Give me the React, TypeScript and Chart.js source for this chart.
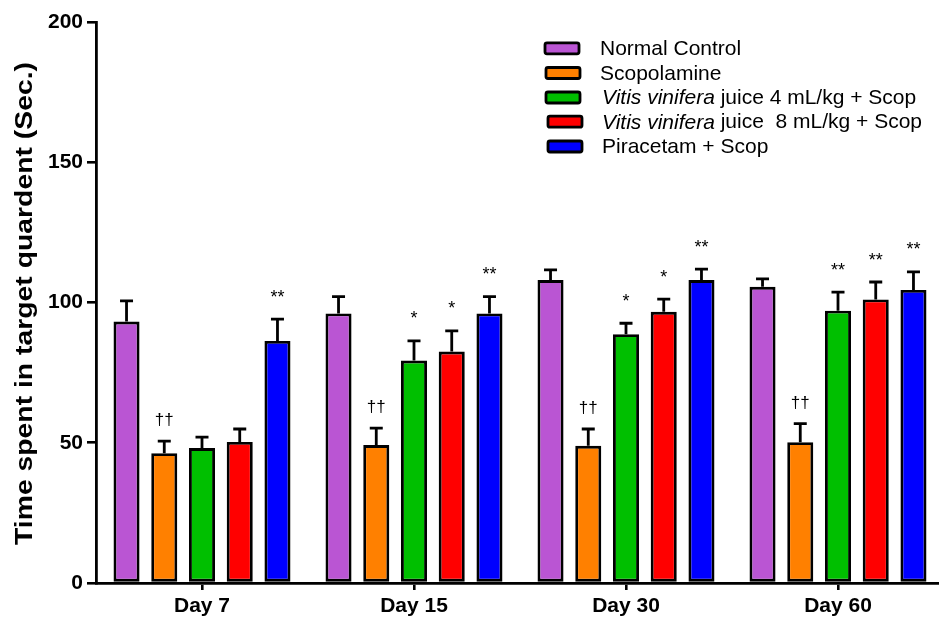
import React, { useEffect, useRef } from "react";
import { Chart, registerables } from "chart.js";

Chart.register(...registerables);

const categories = ["Day 7", "Day 15", "Day 30", "Day 60"];
const seriesNames = [
  "Normal Control",
  "Scopolamine",
  "Vitis vinifera juice 4 mL/kg + Scop",
  "Vitis vinifera juice  8 mL/kg + Scop",
  "Piracetam + Scop",
];
const normalControl = [93.2, 96.1, 108.0, 105.6];
const normalControlErr = [7.4, 6.0, 3.6, 2.8];
const scopolamine = [46.3, 49.2, 48.9, 50.2];
const scopolamineErr = [4.3, 6.0, 6.0, 6.6];
const vitis4 = [48.1, 79.3, 88.7, 97.1];
const vitis4Err = [3.9, 7.0, 3.9, 6.6];
const vitis8 = [50.3, 82.5, 96.7, 101.1];
const vitis8Err = [4.6, 7.4, 4.5, 6.2];
const piracetam = [86.3, 96.1, 108.0, 104.5];
const piracetamErr = [7.8, 6.0, 3.9, 6.4];

const normalNotes = ["", "", "", ""];
const scopNotes = ["††", "††", "††", "††"];
const vitis4Notes = ["", "*", "*", "**"];
const vitis8Notes = ["", "*", "*", "**"];
const piracetamNotes = ["**", "**", "**", "**"];

const yTicks = [0, 50, 100, 150, 200];
const yTitle = "Time spent in target quardent (Sec.)";

const colors = ["#BA55D3", "#FF8000", "#00BF00", "#FF0000", "#0000FF"];
const FONT = '"Liberation Sans", Arial, sans-serif';

const values = [normalControl, scopolamine, vitis4, vitis8, piracetam];
const errors = [normalControlErr, scopolamineErr, vitis4Err, vitis8Err, piracetamErr];
const notes = [normalNotes, scopNotes, vitis4Notes, vitis8Notes, piracetamNotes];

const errorBarPlugin = {
  id: "errorBars",
  afterDatasetsDraw(chart: any) {
    const ctx = chart.ctx;
    const y = chart.scales.y;
    ctx.save();
    chart.data.datasets.forEach((ds: any, di: number) => {
      const meta = chart.getDatasetMeta(di);
      meta.data.forEach((bar: any, i: number) => {
        const v = ds.data[i];
        const base = y.getPixelForValue(v);
        const top = y.getPixelForValue(v + errors[di][i]);
        ctx.strokeStyle = "#000";
        ctx.lineWidth = 2.8;
        ctx.lineCap = "butt";
        ctx.beginPath();
        ctx.moveTo(bar.x, base);
        ctx.lineTo(bar.x, top);
        ctx.moveTo(bar.x - 6.5, top);
        ctx.lineTo(bar.x + 6.5, top);
        ctx.stroke();
        const note = notes[di][i];
        if (note) {
          const star = note.startsWith("*");
          ctx.font = `${star ? 18 : 17}px ${FONT}`;
          ctx.fillStyle = "#000";
          ctx.textAlign = "center";
          ctx.textBaseline = "alphabetic";
          const m = ctx.measureText(note);
          const off = (m.actualBoundingBoxAscent - m.actualBoundingBoxDescent) / 2;
          const center = top - (star ? 26 : 21.5);
          ctx.fillText(note, bar.x, center + off);
        }
      });
    });
    ctx.restore();
  },
};

const legendPlugin = {
  id: "customLegend",
  afterDraw(chart: any) {
    const ctx = chart.ctx;
    ctx.save();
    const rowY = [48.3, 73, 97.5, 121.7, 146.5];
    const boxX = [545, 546, 546, 548, 548];
    seriesNames.forEach((name, i) => {
      const cy = rowY[i];
      ctx.fillStyle = colors[i];
      ctx.strokeStyle = "#000";
      ctx.lineWidth = 2.8;
      ctx.beginPath();
      if ((ctx as any).roundRect) (ctx as any).roundRect(boxX[i], cy - 5.5, 34, 11, 2);
      else ctx.rect(boxX[i], cy - 5.5, 34, 11);
      ctx.fill();
      ctx.stroke();
      ctx.fillStyle = "#000";
      ctx.textBaseline = "middle";
      ctx.textAlign = "left";
      let x = i >= 2 ? 602 : 600;
      if (name.startsWith("Vitis vinifera")) {
        ctx.font = `italic 21px ${FONT}`;
        const it = "Vitis vinifera";
        ctx.fillText(it, x, cy + 1);
        x += ctx.measureText(it).width;
        ctx.font = `21px ${FONT}`;
        ctx.fillText(name.slice(it.length), x, cy + 1);
      } else {
        ctx.font = `21px ${FONT}`;
        ctx.fillText(name, x, cy + 1);
      }
    });
    // y-axis title
    ctx.translate(25, 303.5);
    ctx.rotate(-Math.PI / 2);
    ctx.font = `bold 23px ${FONT}`;
    ctx.textAlign = "center";
    ctx.textBaseline = "middle";
    const w = ctx.measureText(yTitle).width;
    ctx.scale(483 / w, 1);
    ctx.fillStyle = "#000";
    ctx.fillText(yTitle, 0, 1);
    ctx.restore();
  },
};

export default function App() {
  const ref = useRef<HTMLCanvasElement | null>(null);
  useEffect(() => {
    if (!ref.current) return;
    const chart = new Chart(ref.current, {
      type: "bar",
      data: {
        labels: categories,
        datasets: seriesNames.map((name, i) => ({
          label: name,
          data: values[i],
          backgroundColor: colors[i],
          borderColor: "#000",
          borderWidth: 2.9,
          borderSkipped: false,
          categoryPercentage: 0.89,
          barPercentage: 0.69,
        })),
      },
      options: {
        responsive: false,
        animation: false,
        devicePixelRatio: 1,
        layout: { padding: { top: 22, left: 0, right: 0, bottom: 0 } },
        plugins: {
          legend: { display: false },
          tooltip: { enabled: false },
        },
        scales: {
          x: {
            offset: true,
            grid: {
              offset: false,
              drawOnChartArea: false,
              drawTicks: true,
              tickLength: 7,
              color: "#000",
              lineWidth: 2.6,
            },
            border: { display: true, color: "#000", width: 2.8 },
            ticks: {
              color: "#000",
              font: { family: FONT, size: 21, weight: "bold" },
              padding: 4,
              maxRotation: 0,
            },
            afterFit: (s: any) => {
              s.height = 36;
            },
          },
          y: {
            min: 0,
            max: 200,
            afterBuildTicks: (s: any) => {
              s.ticks = yTicks.map((v) => ({ value: v }));
            },
            grid: {
              drawOnChartArea: false,
              drawTicks: true,
              tickLength: 9,
              color: "#000",
              lineWidth: 2.6,
            },
            border: { display: true, color: "#000", width: 2.8 },
            ticks: {
              color: "#000",
              font: { family: FONT, size: 21, weight: "bold" },
              padding: 4,
            },
            afterFit: (s: any) => {
              s.width = 96;
            },
          },
        },
      },
      plugins: [errorBarPlugin, legendPlugin],
    } as any);
    return () => chart.destroy();
  }, []);
  return (
    <div
      style={{
        position: "fixed",
        left: 0,
        top: 0,
        width: 939,
        height: 619,
        overflow: "hidden",
        background: "#fff",
      }}
    >
      <canvas ref={ref} width={944} height={619} style={{ display: "block" }} />
    </div>
  );
}
